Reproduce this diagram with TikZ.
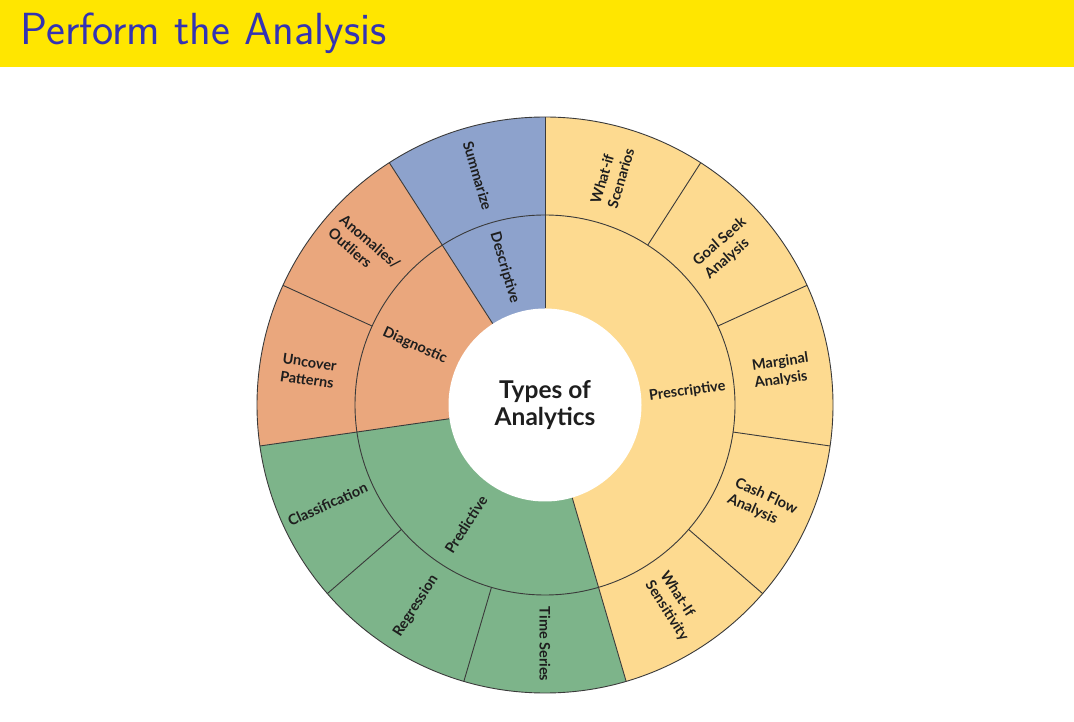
\documentclass[tikz,border=0pt]{standalone}
\usepackage{fontspec}
\newfontfamily\chartfont{Lato}
\definecolor{baryellow}{HTML}{FFE600}
\definecolor{titleblue}{HTML}{3333B3}
\definecolor{descblue}{HTML}{8DA2CC}
\definecolor{diagorange}{HTML}{EAA77D}
\definecolor{predgreen}{HTML}{7DB48A}
\definecolor{prescyellow}{HTML}{FDDA90}
\definecolor{rim}{HTML}{3A3A3A}
\definecolor{ink}{HTML}{1E1E1E}

\begin{document}
\begin{tikzpicture}[x=1pt,y=1pt,line width=0.9pt,
    leaf/.style={font=\chartfont\bfseries\fontsize{14.5}{17.7}\selectfont,text=ink,align=left,inner sep=0pt}]
  \useasboundingbox (0,0) rectangle (1074,721);
  \fill[baryellow] (0,654) rectangle (1074,721);
  \node[anchor=base west,inner sep=0pt,text=titleblue,font=\sffamily\fontsize{45}{52}\selectfont] (title) at (20,676) {Perform the Analysis};
  \begin{scope}[shift={(545,316)}]
    \foreach \from/\to/\col in {90/122.73/descblue,122.73/188.18/diagorange,188.18/286.36/predgreen,286.36/450/prescyellow}
      \fill[\col] (0,0) -- (\from:288pt) arc[start angle=\from,end angle=\to,radius=288pt] -- cycle;
    \draw[rim] (0,0) circle (288pt);
    \draw[rim] (0,0) circle (190pt);
    \foreach \k in {0,1,3,6}
      \draw[rim] (90+\k*360/11:96.5pt) -- (90+\k*360/11:288pt);
    \foreach \k in {2,4,5,7,8,9,10}
      \draw[rim] (90+\k*360/11:190pt) -- (90+\k*360/11:288pt);
    \fill[white] (0,0) circle (96.5pt);
    \node[font=\chartfont\bfseries\fontsize{24.5}{27.5}\selectfont,text=ink,align=center] (types) at (0,0) {Types of\\Analytics};
    \foreach \a/\r/\txt in {106.36/-73.64/Descriptive,155.45/-24.55/Diagnostic,236.5/57.27/Predictive,5.5/8.18/Prescriptive}
      \node[leaf,rotate=\r] (ring\txt) at (\a:143pt) {\txt};
    \foreach \k/\txt in {0/Summarize,1/{Anomalies/\\Outliers},2/{Uncover\\Patterns},3/Classification,4/Regression,5/Time Series,6/{What-If\\Sensitivity},7/{Cash Flow\\Analysis},8/{Marginal\\Analysis},9/{Goal Seek\\Analysis},10/{What-if\\Scenarios}}{
      \pgfmathsetmacro\lang{90+(\k+0.5)*360/11}
      \pgfmathsetmacro\lrot{\lang<269 ? \lang-180 : \lang-360}
      \node[leaf,rotate=\lrot] (leaf\k) at (\lang:239pt) {\txt};
    }
  \end{scope}
\end{tikzpicture}
\end{document}
